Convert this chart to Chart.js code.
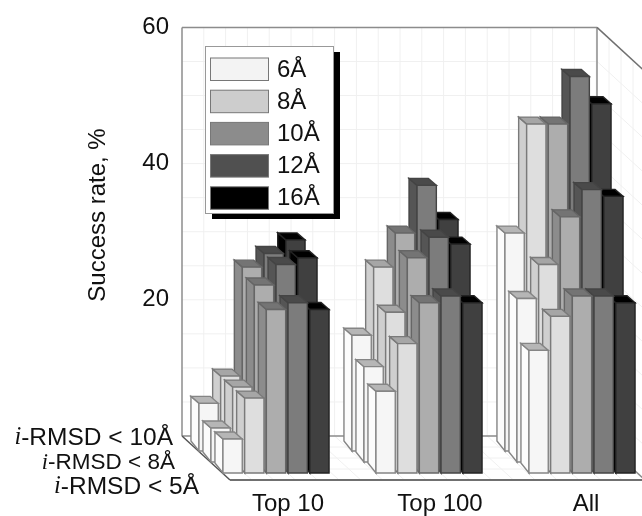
<!DOCTYPE html>
<html>
<head>
<meta charset="utf-8">
<style>
html, body { margin: 0; padding: 0; background: #fff; overflow: hidden; }
canvas { display: block; }
</style>
<script src="https://cdn.jsdelivr.net/npm/chart.js@4"></script>
</head>
<body>
<canvas id="myChart" width="642" height="516"></canvas>
<script>
const categories = ['Top 10', 'Top 100', 'All'];
const cutoffs = ['6Å', '8Å', '10Å', '12Å', '16Å'];
const rowNames = ['-RMSD < 10Å', '-RMSD < 8Å', '-RMSD < 5Å'];
const yTitle = 'Success rate, %';

// Success rates per cutoff, back row (i-RMSD < 10Å)
const back6 = [7, 17, 32];
const back8 = [11, 27, 48];
const back10 = [27, 32, 48];
const back12 = [29, 39, 55];
const back16 = [31, 34, 51];
// middle row (i-RMSD < 8Å)
const mid6 = [5, 14, 24];
const mid8 = [11, 22, 29];
const mid10 = [26, 30, 36];
const mid12 = [29, 33, 40];
const mid16 = [30, 32, 39];
// front row (i-RMSD < 5Å)
const front6 = [5, 12, 18];
const front8 = [11, 19, 23];
const front10 = [24, 25, 26];
const front12 = [25, 26, 26];
const front16 = [24, 25, 25];

const rows = [
    [back6, back8, back10, back12, back16],
    [mid6, mid8, mid10, mid12, mid16],
    [front6, front8, front10, front12, front16]
];

// Colors for the faces of the bars, one per cutoff
const frontColors = ['#f6f6f6', '#dedede', '#adadad', '#7c7c7c', '#404040'];
const sideColors = ['#fcfcfc', '#cfcfcf', '#8c8c8c', '#555555', '#000000'];
const topColors = ['#b6b6b6', '#a6a6a6', '#747474', '#4a4a4a', '#000000'];
const edgeColors = ['#858585', '#7a7a7a', '#666666', '#444444', '#222222'];
const legendColors = ['#f3f3f3', '#cdcdcd', '#8c8c8c', '#505050', '#000000'];

const FONT = '"Liberation Sans", Arial, sans-serif';
const rowShift = [[-6.5, 15], [5.5, 26], [17.5, 37]]; // Oblique shift of each row from the back wall
const depth = [48, 44]; // Oblique vector of the floor
const wallWidth = 415;
const labelShift = [29.5, 28.5, 21.5]; // The x labels do not sit quite under the groups

function poly(ctx, pts, fill, stroke) {
    ctx.beginPath();
    pts.forEach((p, i) => i ? ctx.lineTo(p[0], p[1]) : ctx.moveTo(p[0], p[1]));
    ctx.closePath();
    ctx.fillStyle = fill;
    ctx.fill();
    ctx.strokeStyle = stroke;
    ctx.lineWidth = 1.4;
    ctx.stroke();
}

function line(ctx, x1, y1, x2, y2, color, width) {
    ctx.beginPath();
    ctx.moveTo(x1, y1);
    ctx.lineTo(x2, y2);
    ctx.strokeStyle = color;
    ctx.lineWidth = width;
    ctx.stroke();
}

function drawBox(chart) {
    const ctx = chart.ctx;
    const y = chart.scales.y;
    const left = chart.chartArea.left;
    const right = left + wallWidth;
    const top = y.getPixelForValue(60);
    const bottom = y.getPixelForValue(0);
    const grid = '#f0f0f0';

    ctx.save();
    // Back wall and right wall grid
    for (let v = 0; v <= 60; v += 5) {
        const py = y.getPixelForValue(v);
        line(ctx, left, py, right, py, grid, 1);
        line(ctx, right, py, right + depth[0], py + depth[1], grid, 1);
    }
    for (let k = 1; k < 20; k++) {
        const px = left + k * 21.8;
        line(ctx, px, top, px, bottom, grid, 1);
        line(ctx, px, bottom, px + depth[0], bottom + depth[1], grid, 1);
    }
    for (let k = 1; k < 4; k++) {
        const dx = k * depth[0] / 4, dy = k * depth[1] / 4;
        line(ctx, right + dx, top + dy, right + dx, bottom + dy, grid, 1);
        line(ctx, left + dx, bottom + dy, right + dx, bottom + dy, grid, 1);
    }
    // Box outline
    line(ctx, left, top, right, top, '#8c8c8c', 1.5);
    line(ctx, left, top, left, bottom, '#8c8c8c', 1.5);
    line(ctx, right, top, right, bottom, '#8c8c8c', 1.5);
    line(ctx, left, bottom, right, bottom, '#8c8c8c', 1.5);
    line(ctx, right, top, right + depth[0], top + depth[1], '#707070', 1.5);
    line(ctx, left, bottom, left + depth[0], bottom + depth[1], '#555555', 1.5);
    line(ctx, right, bottom, right + depth[0], bottom + depth[1], '#8c8c8c', 1.5);
    line(ctx, left + depth[0], bottom + depth[1], chart.width, bottom + depth[1], '#707070', 2);
    ctx.restore();
}

function drawBars(chart) {
    const ctx = chart.ctx;
    const dx = 8, dyTop = 7, dyBottom = 10;

    ctx.save();
    // Back to front, and right to left inside a row, so the nearer bars cover the others
    for (let r = 0; r < rows.length; r++) {
        for (let c = categories.length - 1; c >= 0; c--) {
            for (let s = cutoffs.length - 1; s >= 0; s--) {
                const bar = chart.getDatasetMeta(r * cutoffs.length + s).data[c];
                const x0 = bar.x - bar.width / 2 + rowShift[r][0];
                const x1 = bar.x + bar.width / 2 + rowShift[r][0];
                const yt = bar.y + rowShift[r][1];
                const yb = bar.base + rowShift[r][1];
                poly(ctx, [[x0 - dx, yt - dyTop], [x0, yt], [x0, yb], [x0 - dx, yb - dyBottom]], sideColors[s], edgeColors[s]);
                poly(ctx, [[x0 - dx, yt - dyTop], [x1 - dx, yt - dyTop], [x1, yt], [x0, yt]], topColors[s], edgeColors[s]);
                poly(ctx, [[x0, yt], [x1, yt], [x1, yb], [x0, yb]], frontColors[s], edgeColors[s]);
            }
        }
    }
    ctx.restore();
}

function drawLegend(ctx) {
    ctx.save();
    ctx.fillStyle = '#000';
    ctx.fillRect(212, 52, 128, 167);
    ctx.fillStyle = '#fff';
    ctx.fillRect(206, 46, 128, 167);
    ctx.strokeStyle = '#999999';
    ctx.lineWidth = 1;
    ctx.strokeRect(205.5, 46.5, 128, 167);

    ctx.font = '24px ' + FONT;
    ctx.textBaseline = 'middle';
    ctx.textAlign = 'left';
    cutoffs.forEach((label, i) => {
        const y = 58 + i * 32.2;
        ctx.fillStyle = legendColors[i];
        ctx.fillRect(210.5, y, 58, 22.5);
        ctx.strokeStyle = '#777777';
        ctx.strokeRect(210.5, y, 58, 22.5);
        ctx.fillStyle = '#111';
        ctx.fillText(label, 277, y + 12);
    });
    ctx.restore();
}

function drawTexts(chart) {
    const ctx = chart.ctx;
    const x = chart.scales.x;

    ctx.save();
    ctx.fillStyle = '#111';
    ctx.textBaseline = 'middle';

    // Category labels
    ctx.font = '24px ' + FONT;
    ctx.textAlign = 'center';
    categories.forEach((label, i) => {
        ctx.fillText(label, x.getPixelForTick(i) + labelShift[i], 504);
    });

    // Row labels, the i is set in an italic serif
    const ends = [173, 175, 199];
    const ys = [438, 463, 487];
    const sizes = [24.5, 22.5, 24.5];
    ctx.textAlign = 'left';
    rowNames.forEach((label, i) => {
        ctx.font = sizes[i] + 'px ' + FONT;
        const w = ctx.measureText(label).width;
        ctx.fillText(label, ends[i] - w, ys[i]);
        ctx.font = 'italic ' + sizes[i] + 'px "Liberation Serif", serif';
        const iw = ctx.measureText('i').width;
        ctx.fillText('i', ends[i] - w - iw, ys[i]);
    });

    // Axis title
    ctx.font = '24px ' + FONT;
    ctx.textAlign = 'center';
    ctx.translate(98, 215);
    ctx.rotate(-Math.PI / 2);
    ctx.fillText(yTitle, 0, 0);
    ctx.restore();
}

const bars3d = {
    id: 'bars3d',
    beforeDatasetsDraw(chart) {
        drawBox(chart);
        drawBars(chart);
        drawLegend(chart.ctx);
        drawTexts(chart);
        return false; // The flat bars of the library are not wanted
    }
};

const datasets = [];
rows.forEach((row, r) => {
    row.forEach((values, s) => {
        datasets.push({
            label: cutoffs[s] + ', i' + rowNames[r],
            data: values,
            stack: cutoffs[s],
            backgroundColor: frontColors[s],
            categoryPercentage: 0.709,
            barPercentage: 0.89
        });
    });
});

new Chart('myChart', {
    type: 'bar',
    data: { labels: categories, datasets: datasets },
    plugins: [bars3d],
    options: {
        responsive: false,
        animation: false,
        layout: { padding: { top: 22, right: 1, left: 0, bottom: 0 } },
        plugins: { legend: { display: false }, title: { display: false }, tooltip: { enabled: false } },
        scales: {
            x: {
                grid: { display: false },
                border: { display: false },
                ticks: { display: false },
                afterFit(scale) { scale.height = 80; }
            },
            y: {
                stacked: false,
                min: 0,
                max: 60,
                grid: { display: false, drawTicks: false },
                border: { display: false },
                ticks: {
                    stepSize: 5,
                    autoSkip: false,
                    padding: 13,
                    color: '#111',
                    font: { family: FONT, size: 24 },
                    callback: v => (v > 0 && v % 20 === 0) ? v : ''
                },
                afterFit(scale) { scale.width = 182; }
            }
        }
    }
});
</script>
</body>
</html>
